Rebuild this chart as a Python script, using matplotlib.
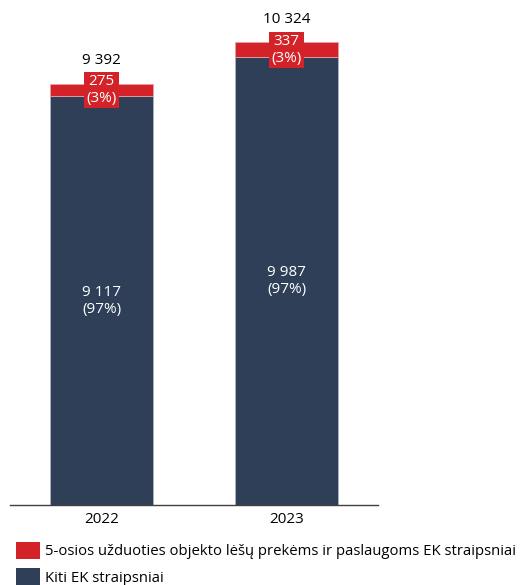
import matplotlib

matplotlib.use('Agg')
from matplotlib import pyplot as plt
from matplotlib.patches import Patch

years = ['2022', '2023']
other_items = [9117, 9987]
task_items = [275, 337]
other_pct = ['97%', '97%']
task_pct = ['3%', '3%']
totals = [9392, 10324]

red = '#D42229'
navy = '#2E3F57'

plt.rcParams['font.family'] = ['Open Sans', 'DejaVu Sans']

fig = plt.figure(figsize=(5.21, 5.85), dpi=100)
# axes placed in pixel terms: left 10, right 378, bottom 505 (from top), top 12
ax = fig.add_axes([10 / 521, 1 - 505 / 585, 368 / 521, 493 / 585])

x = list(range(len(years)))
width = 0.557
ax.bar(x, other_items, width, color=navy, edgecolor='#A9B4C4', linewidth=0.6)
ax.bar(x, task_items, width, bottom=other_items, color=red, edgecolor='#E8A0A3', linewidth=0.6)

def fmt(v):
    return f'{v:,}'.replace(',', ' ')

for i in x:
    ax.text(i, other_items[i] / 2, f'{fmt(other_items[i])}\n({other_pct[i]})',
            ha='center', va='center', color='white', fontsize=11, linespacing=1.15)
    ax.text(i, other_items[i] + task_items[i] / 2, f'{fmt(task_items[i])}\n({task_pct[i]})',
            ha='center', va='center', color='white', fontsize=11, linespacing=1.15,
            bbox=dict(boxstyle='square,pad=0.15', facecolor=red, edgecolor='none'))
    ax.text(i, totals[i] + 350, fmt(totals[i]), ha='center', va='bottom',
            color='black', fontsize=11)

ax.set_xlim(-0.495, 1.495)
ax.set_ylim(0, 11000)
ax.set_xticks(x)
ax.set_xticklabels(years, fontsize=11)
ax.tick_params(axis='x', length=0, pad=5)
ax.set_yticks([])
for s in ['top', 'right', 'left']:
    ax.spines[s].set_visible(False)
ax.spines['bottom'].set_color('#404040')
ax.spines['bottom'].set_linewidth(1.0)

handles = [Patch(facecolor=red, edgecolor='none'), Patch(facecolor=navy, edgecolor='none')]
labels = ['5-osios užduoties objekto lėšų prekėms ir paslaugoms EK straipsniai',
          'Kiti EK straipsniai']
fig.legend(handles, labels, loc='upper left', bbox_to_anchor=(16 / 521, 1 - 542 / 585),
           frameon=False, fontsize=10.75, handlelength=1.6, handleheight=1.35,
           handletextpad=0.35, labelspacing=0.6, borderaxespad=0, borderpad=0)

fig.savefig('out.png', dpi=100)
plt.close(fig)
